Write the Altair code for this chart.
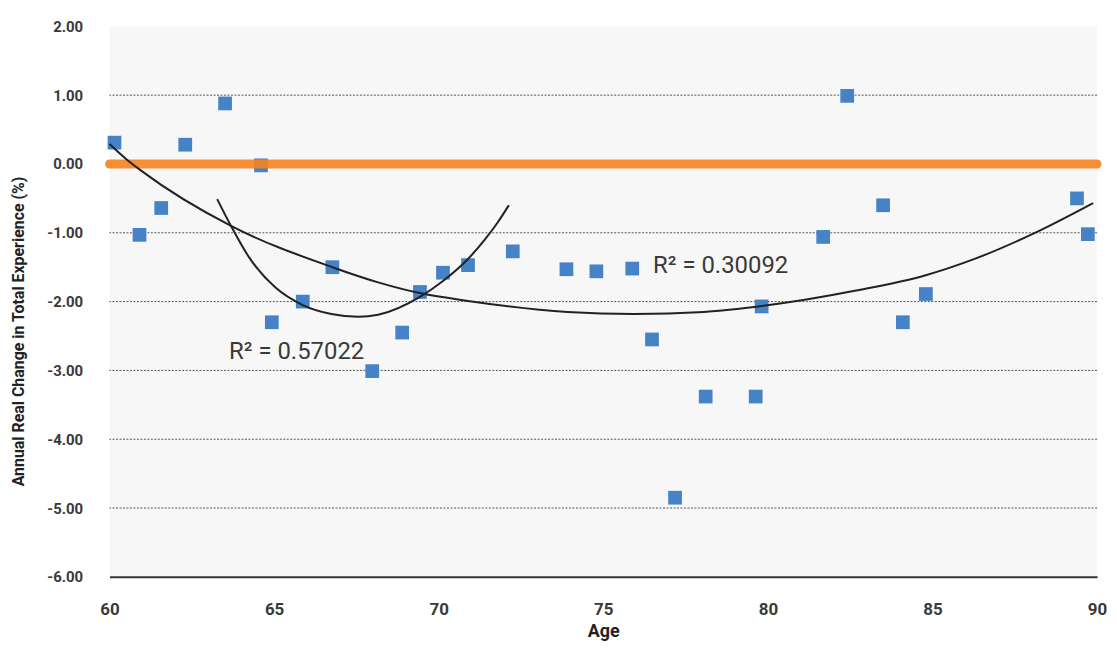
import altair as alt
import pandas as pd

# ---- data ----
ages = [60.15, 60.91, 61.57, 62.30, 63.51, 64.60, 64.93, 65.87, 66.77, 67.98,
        68.89, 69.43, 70.13, 70.89, 72.25, 73.88, 74.79, 75.88, 76.48, 77.18,
        78.11, 79.63, 79.81, 81.68, 82.41, 83.50, 84.10, 84.80, 89.39, 89.72]
values = [0.31, -1.03, -0.64, 0.28, 0.88, -0.02, -2.30, -2.00, -1.50, -3.01,
          -2.45, -1.86, -1.58, -1.47, -1.27, -1.53, -1.56, -1.52, -2.55, -4.85,
          -3.38, -3.38, -2.07, -1.06, 0.99, -0.60, -2.30, -1.89, -0.50, -1.02]

# trend line for all ages (R² = 0.30092)
trend_long_age = [60.0, 60.51, 60.97, 63.69, 66.77, 68.16, 69.46, 70.89, 73.91,
                  75.94, 78.05, 79.87, 81.17, 82.68, 84.77, 86.22, 88.21, 89.88]
trend_long_val = [0.29, 0.07, -0.10, -0.90, -1.50, -1.72, -1.88, -1.99, -2.15,
                  -2.18, -2.15, -2.06, -1.97, -1.84, -1.62, -1.39, -0.98, -0.57]

# trend line for the early ages (R² = 0.57022)
trend_short_age = [63.27, 63.69, 64.23, 65.05, 65.87, 66.74, 67.56, 68.16,
                   69.43, 70.13, 70.89, 71.40, 71.79, 72.13]
trend_short_val = [-0.51, -0.90, -1.35, -1.80, -2.05, -2.18, -2.22, -2.19,
                   -1.93, -1.70, -1.38, -1.10, -0.85, -0.60]

x_ticks = [60, 65, 70, 75, 80, 85, 90]
y_ticks = [2, 1, 0, -1, -2, -3, -4, -5, -6]
grid_values = [1, -1, -2, -3, -4, -5]
zero_line = [0]

r2_labels = ["R\u00b2 = 0.57022", "R\u00b2 = 0.30092"]
r2_ages = [63.63, 76.51]
r2_values = [-2.73, -1.48]

FONT = "Roboto, Liberation Sans, sans-serif"

df = pd.DataFrame({"age": ages, "value": values})
long_df = pd.DataFrame({"age": trend_long_age, "value": trend_long_val})
short_df = pd.DataFrame({"age": trend_short_age, "value": trend_short_val})
grid_df = pd.DataFrame({"g": grid_values})
zero_df = pd.DataFrame({"z": zero_line})
lab_df = pd.DataFrame({"label": r2_labels, "age": r2_ages, "value": r2_values})

x_scale = alt.Scale(domain=[60, 90], nice=False, zero=False)
y_scale = alt.Scale(domain=[-6, 2], nice=False, zero=False)

x_axis = alt.Axis(
    values=x_ticks, title="Age", grid=False, ticks=False, labelFlush=False,
    domainColor="#333333", domainWidth=2,
    labelFont=FONT, labelFontSize=17, labelColor="#3a3a3a", labelFontWeight="bold",
    labelPadding=25,
    titleFont=FONT, titleFontSize=18, titleFontWeight="bold", titleColor="#222222",
    titleY=55, titleBaseline="middle",
)
y_axis = alt.Axis(
    values=y_ticks, title="Annual Real Change in Total Experience (%)",
    grid=False, ticks=False, domain=False,
    labelExpr="(datum.value < 0 ? '-' : '') + format(abs(datum.value), '.2f')",
    labelFont=FONT, labelFontSize=15, labelColor="#3a3a3a", labelFontWeight="bold",
    labelPadding=27,
    titleFont=FONT, titleFontSize=16, titleFontWeight="bold", titleColor="#222222",
    titleX=-91, titleY=306, titleBaseline="middle", titleAlign="center",
)

grid = alt.Chart(grid_df).mark_rule(
    color="#555555", strokeWidth=1, strokeDash=[2, 1.5]
).encode(y=alt.Y("g:Q", scale=y_scale, axis=y_axis))

points = alt.Chart(df).mark_square(size=190, color="#4683c6", opacity=1).encode(
    x=alt.X("age:Q", scale=x_scale, axis=x_axis),
    y=alt.Y("value:Q", scale=y_scale),
)

zero = alt.Chart(zero_df).mark_rule(
    color="#f5821f", strokeWidth=9, strokeCap="round", opacity=0.9
).encode(y=alt.Y("z:Q", scale=y_scale))

long_fit = alt.Chart(long_df).mark_line(
    color="#222222", strokeWidth=2, interpolate="monotone"
).encode(x=alt.X("age:Q", scale=x_scale), y=alt.Y("value:Q", scale=y_scale))

short_fit = alt.Chart(short_df).mark_line(
    color="#222222", strokeWidth=2, interpolate="monotone"
).encode(x=alt.X("age:Q", scale=x_scale), y=alt.Y("value:Q", scale=y_scale))

labels = alt.Chart(lab_df).mark_text(
    align="left", baseline="middle", font=FONT, fontSize=24, color="#3a3a3a"
).encode(
    x=alt.X("age:Q", scale=x_scale), y=alt.Y("value:Q", scale=y_scale),
    text="label:N",
)

chart = alt.layer(grid, points, zero, long_fit, short_fit, labels).properties(
    width=992, height=553,
    autosize=alt.AutoSizeParams(type="none"),
    padding={"left": 102, "top": 17, "right": 12, "bottom": 64},
    background="white",
).configure_view(fill="#f7f7f7", strokeWidth=0)

chart.save("out.html", embed_options={"renderer": "svg", "actions": False})
